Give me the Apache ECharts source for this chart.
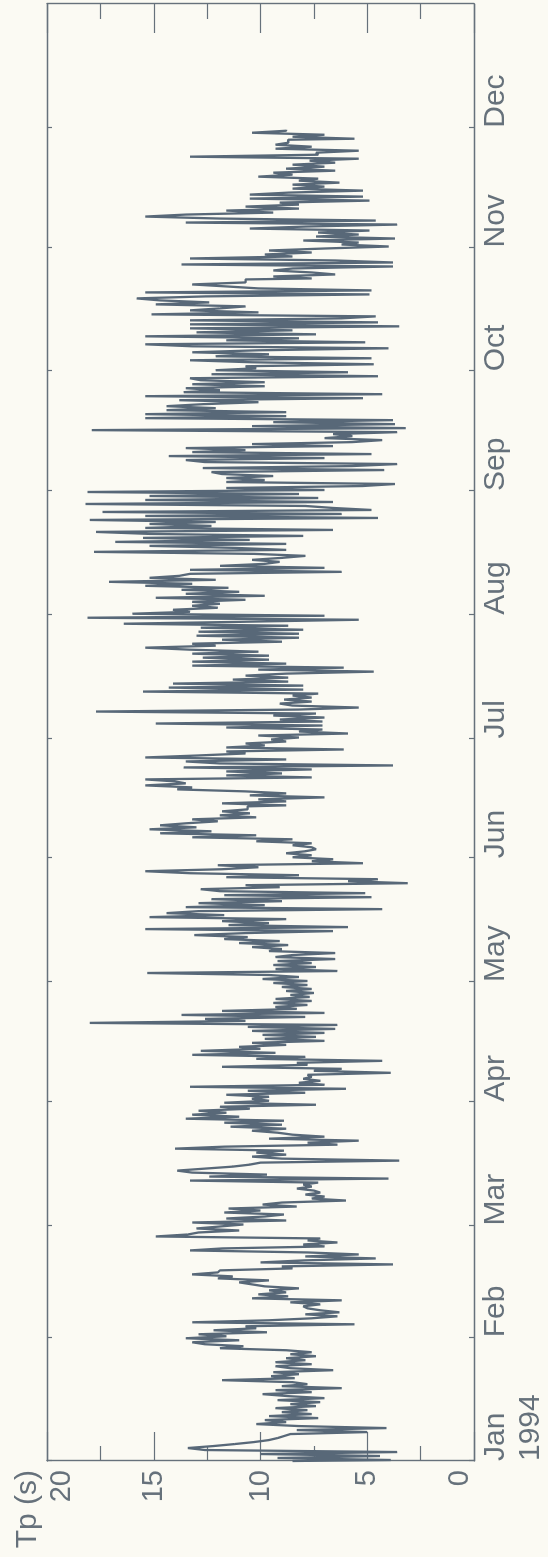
<!DOCTYPE html>
<html>
<head>
<meta charset="utf-8">
<script src="https://cdn.jsdelivr.net/npm/echarts@6/dist/echarts.min.js"></script>
<style>
  html, body { margin: 0; padding: 0; background: #fbfaf3; overflow: hidden; }
  /* chart is drawn lying down, then turned so time runs bottom to top */
  #chart {
    position: absolute; left: 0; top: 0;
    width: 1557px; height: 548px;
    transform-origin: 0 0;
    transform: translateY(1557px) rotate(-90deg);
  }
</style>
</head>
<body>
<div id="chart"></div>
<script>
// month ticks, in days from 1 Jan 1994
const monthStarts = [0, 31, 59, 90, 120, 151, 181, 212, 243, 273, 304, 334]
const monthLabels = ['Jan\n1994', 'Feb', 'Mar', 'Apr', 'May', 'Jun', 'Jul', 'Aug', 'Sep', 'Oct', 'Nov', 'Dec']
const tpTicks = [0, 5, 10, 15, 20]

// Tp (s), two readings a day
const jan = [8.5, 3.9, 9.2, 4.4, 10.0, 3.6, 12.6, 13.4, 12.2, 11.2,
  10.3, 9.6, 9.2, 8.9, 8.6, 5.0, 8.3, 4.1, 8.2, 10.2,
  8.8, 9.8, 7.3, 9.6, 7.6, 9.0, 7.8, 9.3, 7.4, 8.6,
  7.2, 9.2, 7.0, 8.7, 9.9, 7.6, 9.3, 6.2, 9.0, 7.8,
  8.5, 11.8, 8.4, 9.5, 8.2, 9.4, 6.6, 8.6, 9.3, 7.6,
  9.3, 7.9, 8.8, 7.4, 8.6, 7.6, 8.8, 11.9, 10.8, 12.6,
  13.2, 11.0]
const feb = [13.5, 11.6, 12.9, 9.7, 12.2, 10.2, 10.7, 5.6, 13.2, 9.6,
  7.6, 6.4, 7.9, 6.3, 7.2, 7.8, 8.0, 7.2, 8.6, 6.2,
  10.4, 8.7, 10.1, 8.8, 9.6, 8.2, 9.8, 10.4, 11.0, 9.6,
  12.0, 11.3, 13.2, 12.0, 11.9, 8.5, 9.0, 3.8, 10.0, 8.0,
  4.6, 7.9, 5.4, 7.8, 13.3, 11.8, 7.0, 8.0, 6.4, 7.8,
  7.2, 14.9, 13.4, 12.9, 11.0, 13.0]
const mar = [11.9, 10.8, 13.2, 8.8, 11.6, 9.8, 8.9, 11.7, 10.0, 11.5,
  8.3, 9.9, 9.0, 6.0, 7.6, 7.0, 7.9, 7.2, 7.5, 8.3,
  7.6, 8.0, 7.3, 13.3, 4.0, 12.4, 9.7, 13.2, 13.9, 12.6,
  11.3, 10.5, 10.0, 3.5, 9.0, 10.4, 8.8, 10.2, 8.9, 14.0,
  11.7, 6.4, 7.8, 5.4, 9.6, 7.0, 8.5, 9.2, 10.4, 8.8,
  11.4, 9.0, 11.7, 8.9, 13.5, 11.0, 13.2, 11.6, 12.9, 10.5,
  11.9, 7.4]
const apr = [11.7, 9.6, 10.4, 9.6, 11.6, 7.9, 10.6, 6.0, 13.3, 7.0,
  8.2, 7.2, 8.0, 7.6, 7.8, 3.9, 7.5, 6.2, 11.8, 7.8,
  8.3, 4.3, 10.2, 7.9, 13.2, 9.3, 12.8, 10.0, 11.0, 8.8,
  10.4, 7.0, 9.8, 7.4, 9.9, 7.0, 10.4, 6.5, 10.6, 6.4,
  18.0, 10.7, 12.6, 7.9, 13.7, 7.0, 11.8, 8.3, 9.3, 7.8,
  9.4, 7.6, 9.3, 7.7, 8.6, 7.5, 8.8, 7.6, 9.0, 7.8]
const may = [9.4, 7.8, 9.9, 8.2, 9.6, 15.3, 6.4, 9.3, 7.4, 9.4,
  7.6, 9.2, 6.5, 9.3, 8.5, 6.5, 9.6, 9.0, 10.4, 8.7,
  11.0, 9.1, 11.7, 10.6, 13.1, 10.7, 6.6, 15.4, 5.9, 11.5,
  9.6, 11.8, 8.8, 15.2, 11.7, 14.4, 12.9, 4.3, 13.5, 9.8,
  12.9, 9.0, 12.3, 4.8, 11.7, 5.1, 11.9, 12.8, 9.1, 10.7,
  3.1, 5.9, 4.5, 11.6, 8.2, 13.3, 15.4, 11.8, 10.1, 12.0,
  5.2, 7.6]
const jun = [6.6, 8.5, 7.6, 8.8, 7.9, 7.4, 7.6, 8.5, 7.6, 10.2,
  8.5, 13.2, 10.2, 14.7, 12.3, 15.2, 13.0, 14.7, 13.5, 12.0,
  13.2, 10.2, 11.9, 10.5, 11.8, 10.6, 10.6, 8.8, 11.8, 8.8,
  10.1, 7.0, 10.5, 8.8, 10.7, 13.9, 13.2, 15.4, 13.5, 14.0,
  15.4, 7.6, 11.6, 9.0, 11.6, 7.6, 13.6, 3.8, 11.9, 13.5,
  8.8, 15.4, 12.9, 10.7, 11.6, 6.1, 11.6, 9.8, 10.7, 8.8]
const jul = [9.5, 8.2, 10.1, 5.9, 8.2, 7.1, 11.6, 7.1, 14.9, 7.1,
  9.1, 7.0, 9.4, 7.4, 17.7, 8.2, 5.4, 8.5, 9.1, 7.6,
  8.9, 7.6, 8.5, 7.3, 15.5, 8.0, 14.3, 8.0, 14.1, 8.7,
  11.3, 8.7, 10.7, 8.8, 4.7, 10.1, 6.1, 13.2, 8.8, 13.2,
  9.6, 12.7, 9.6, 13.2, 10.1, 13.3, 15.4, 12.1, 13.2, 9.0,
  11.8, 8.2, 13.0, 8.2, 12.9, 8.0, 12.8, 8.7, 16.4, 10.7,
  5.4, 18.1]
const aug = [7.0, 16.0, 13.3, 14.1, 12.0, 13.2, 11.9, 13.2, 10.7, 14.9,
  9.8, 13.5, 11.0, 13.7, 11.5, 15.4, 13.2, 17.1, 12.1, 15.2,
  13.8, 13.3, 6.2, 13.3, 7.0, 11.9, 9.8, 9.1, 10.4, 9.0,
  7.9, 10.3, 17.8, 8.8, 11.2, 15.2, 8.8, 16.8, 10.5, 15.5,
  8.0, 15.2, 17.7, 6.6, 15.4, 12.3, 15.2, 12.1, 18.0, 4.5,
  15.4, 6.2, 17.4, 4.8, 6.6, 7.9, 18.2, 6.6, 15.4, 7.3,
  15.2, 8.2]
const sep = [18.1, 7.0, 11.6, 5.2, 3.7, 11.6, 9.8, 11.6, 9.4, 11.8,
  12.3, 4.2, 12.7, 5.7, 3.6, 12.6, 13.5, 7.0, 14.3, 4.8,
  13.2, 10.7, 13.5, 6.6, 10.4, 5.7, 4.3, 7.0, 5.7, 6.6,
  3.6, 17.9, 3.2, 10.4, 3.7, 9.4, 3.8, 15.4, 8.8, 15.4,
  8.8, 14.4, 12.1, 14.4, 12.7, 10.1, 13.8, 5.2, 15.4, 4.3,
  13.6, 11.9, 13.5, 9.8, 13.2, 9.8, 12.8, 13.3, 4.5, 12.3]
const oct = [5.9, 12.1, 10.2, 10.7, 4.7, 10.4, 13.3, 4.8, 12.1, 9.6,
  13.2, 10.1, 4.0, 13.2, 15.4, 5.1, 11.6, 8.2, 15.4, 7.4,
  13.0, 8.5, 13.3, 3.5, 13.3, 4.5, 13.3, 6.2, 4.6, 15.1,
  10.1, 13.3, 11.9, 10.7, 14.9, 12.4, 14.7, 15.8, 12.6, 4.9,
  15.4, 4.8, 10.1, 11.6, 13.2, 10.7, 10.7, 7.6, 9.4, 6.5,
  7.6, 9.4, 8.5, 3.8, 13.7, 3.8, 6.5, 13.3, 8.5, 9.8,
  7.6, 9.6]
const nov = [7.0, 4.0, 6.2, 5.4, 8.0, 3.7, 7.4, 5.4, 7.3, 4.9,
  10.5, 7.9, 3.6, 13.5, 4.6, 11.9, 15.4, 13.5, 9.4, 11.6,
  8.2, 10.7, 8.2, 9.1, 4.9, 10.5, 5.2, 10.5, 8.7, 5.2,
  8.5, 7.0, 8.5, 6.3, 8.2, 7.3, 10.1, 8.5, 9.4, 6.5,
  8.8, 7.0, 8.5, 6.5, 7.7, 5.4, 13.3, 7.3, 7.4, 5.4,
  9.3, 7.6, 9.3, 8.7, 8.7, 5.6, 8.5, 7.0, 10.4, 8.8]

const tp = [].concat(jan, feb, mar, apr, may, jun, jul, aug, sep, oct, nov)
const seriesData = tp.map((v, i) => [i / 2, v])

const ink = '#66717b'
const font = "'Liberation Sans', Arial, sans-serif"

const timeAxis = (pos, withLabels) => ({
  type: 'value',
  position: pos,
  min: 0,
  max: 365,
  axisLine: { show: true, onZero: false, lineStyle: { color: ink, width: 1.4 } },
  axisTick: { show: true, inside: true, length: 5, customValues: monthStarts, lineStyle: { color: ink, width: 1.2 } },
  axisLabel: {
    show: withLabels,
    customValues: monthStarts,
    formatter: (val) => monthLabels[monthStarts.indexOf(val)],
    align: 'left',
    margin: 4,
    color: ink,
    fontSize: 30,
    lineHeight: 35,
    fontFamily: font,
  },
  splitLine: { show: false },
})

const tpAxis = (pos, withLabels) => ({
  type: 'value',
  position: pos,
  min: 0,
  max: 20,
  interval: 5,
  axisLine: { show: true, onZero: false, lineStyle: { color: ink, width: 1.4 } },
  axisTick: { show: true, inside: true, length: 29, lineStyle: { color: ink, width: 1.2 } },
  minorTick: { show: true, splitNumber: 2, length: 15, lineStyle: { color: ink, width: 1.2 } },
  axisLabel: {
    show: withLabels,
    customValues: tpTicks,
    margin: 9,
    color: ink,
    fontSize: 29,
    fontFamily: font,
    verticalAlignMinLabel: 'bottom',
    verticalAlignMaxLabel: 'top',
  },
  splitLine: { show: false },
  minorSplitLine: { show: false },
})

const chart = echarts.init(document.getElementById('chart'), null, { renderer: 'canvas' })

const yMain = tpAxis('left', true)
yMain.name = 'Tp (s)'
yMain.nameLocation = 'end'
yMain.nameGap = 4
yMain.nameTextStyle = {
  color: ink, fontSize: 30, fontFamily: font,
  align: 'right', verticalAlign: 'bottom', padding: [0, 9, 0, 0],
}

chart.setOption({
  animation: false,
  backgroundColor: '#fbfaf3',
  grid: { left: 96, right: 4, top: 47, bottom: 72 },
  xAxis: [timeAxis('bottom', true), timeAxis('top', false)],
  yAxis: [yMain, tpAxis('right', false)],
  series: [
    {
      type: 'line',
      xAxisIndex: 0,
      yAxisIndex: 0,
      data: seriesData,
      step: 'middle',
      showSymbol: false,
      lineStyle: { color: '#586878', width: 2.3 },
    },
  ],
})
</script>
</body>
</html>
